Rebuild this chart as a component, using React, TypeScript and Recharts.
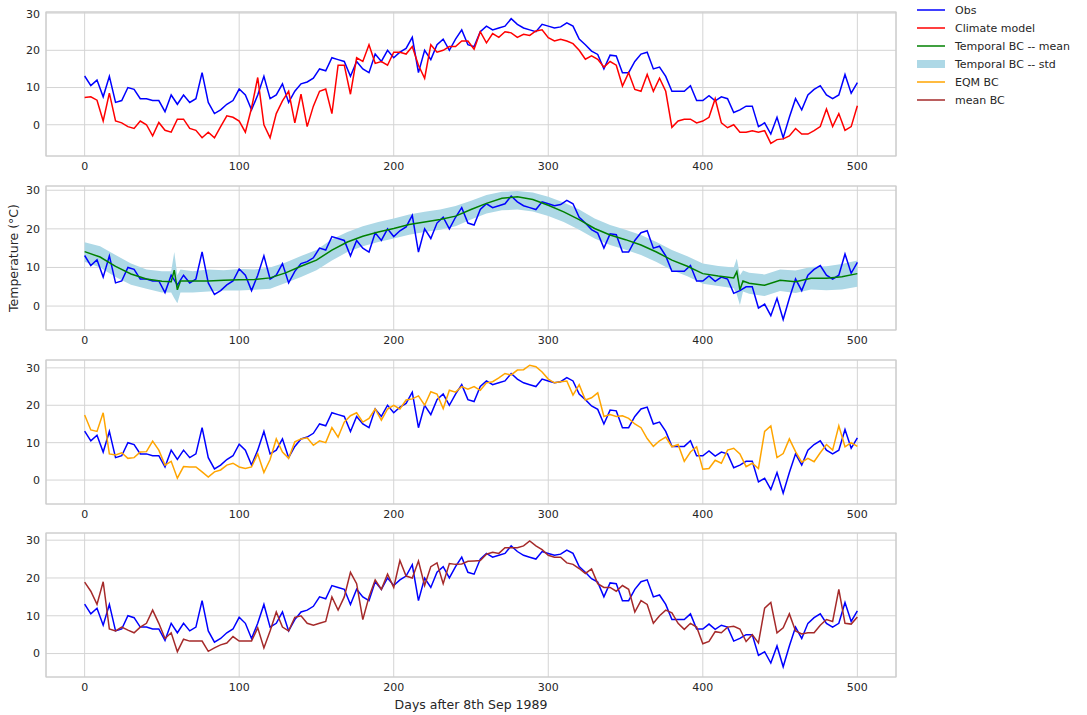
import { ComposedChart, Line, Area, XAxis, YAxis, CartesianGrid, ReferenceArea } from "recharts";
import type { ReactNode } from "react";

const STEP = 4;

const obs = [
  13.1, 10.5, 12, 7.5, 13, 6, 6.5, 10, 9.5, 7,
  7, 6.5, 6.5, 3.5, 8, 5.5, 8, 6, 7, 14,
  6, 3, 4, 5.5, 6.5, 9.6, 8, 4, 8, 13,
  7, 8, 11, 6, 9, 11, 11.5, 12.5, 15, 14.5,
  18, 17.5, 17, 13, 17, 15, 14, 19, 17, 20,
  18, 19.5, 20.5, 23.5, 14, 20, 17.5, 21.5, 23, 20,
  23, 25.5, 21.5, 21, 25, 26.5, 25.5, 26, 26.5, 28.5,
  27, 26, 25.5, 25, 27, 26.5, 26, 26.3, 27.4, 26.5,
  23, 21.5, 19.8, 18.9, 15, 18.7, 18.5, 14, 14, 17,
  19, 19.5, 15, 15.5, 13, 9, 9, 9, 10.5, 6.5,
  6.5, 7.8, 6.4, 7.5, 7, 3.3, 4, 5, 5, -0.5,
  0.5, -2.5, 2, -3.5, 2, 7, 4, 8, 9.5, 10.5,
  8, 7, 8, 13.5, 8.5, 11.3,
];

const climate = [
  7.3, 7.5, 6.6, 1, 8.5, 1, 0.5, -0.5, -1, 1,
  0, -3, 0.6, -1.5, -2, 1.5, 1.5, -1, -1.5, -3.5,
  -2, -3.5, -0.5, 2.4, 2, 1, -2, 4.5, 12.7, 0,
  -3.5, 3, 6.4, 9, 0.5, 8.2, -0.5, 5, 9, 9.6,
  3, 16, 16, 8.2, 18, 17, 21.5, 16.5, 17, 16,
  19.5, 19.5, 19, 21, 16, 12.5, 21.5, 19.5, 20, 21,
  21, 22.5, 22.5, 20.3, 25, 22, 24.5, 23.5, 25, 24.7,
  23.5, 24.3, 24, 25.2, 25.5, 23.4, 22.5, 23, 22.5, 21.8,
  20, 17.6, 18.5, 17.6, 15.5, 17, 16, 10.4, 14, 9.5,
  9, 13.5, 9, 12.5, 9, -0.7, 1, 1.5, 1.5, 0.5,
  1, 2, 7, 0.5, -0.8, 0, -2, -2, -1.6, -2,
  -1.6, -5, -4, -3.8, -3, -1, -2.5, -2.5, -1.6, -0.5,
  4.2, -0.5, 3, -1.5, -0.5, 5.1,
];

const eqm = [
  17.4, 13.4, 13, 18, 7, 6.7, 7.3, 5.8, 6, 7.5,
  7.6, 10.4, 8, 4, 5, 0.5, 3.6, 3.5, 3.5, 2.2,
  0.8, 2.2, 2.7, 4, 4.5, 3.5, 3.1, 3.5, 7, 2,
  5.5, 11, 7.5, 5.8, 10.2, 11, 11.3, 9.3, 10.5, 10,
  14, 11.5, 15.5, 17.2, 18, 15.5, 16.5, 19, 16, 19,
  20, 19, 21.4, 21.7, 22.5, 20, 23.6, 23, 19.1, 24,
  23.5, 25, 24.3, 25, 24, 26, 26.3, 27.3, 28.5, 28.1,
  29.4, 29.5, 30.7, 30.3, 28.9, 27, 26, 26.3, 26.5, 22.7,
  25.5, 21.4, 22, 23.3, 17, 17.5, 17, 17.2, 16.5, 15,
  14, 11.1, 9, 10.5, 11.5, 8.9, 9.5, 5, 7.5, 8.9,
  2.9, 3.1, 5.3, 4.5, 8, 8.5, 7, 3.6, 4.5, 3.1,
  13, 14.5, 6, 7.1, 11, 7.6, 4.8, 5.8, 4.9, 7.3,
  9.5, 8, 14.5, 8.9, 10, 9,
];

const meanBc = [
  18.9, 16.5, 13, 19, 6.5, 6, 7, 6.2, 5.5, 7,
  8, 11.5, 8, 4, 5.5, 0.5, 3.8, 3.3, 3.3, 3.3,
  0.6, 1.5, 2.3, 2.8, 4.5, 3.3, 3.3, 3.3, 6.8, 1.5,
  6, 11, 7, 6, 9.6, 10, 8, 7.5, 8, 8.5,
  15, 11.5, 15, 21.5, 18.5, 9, 15, 19.5, 17, 21,
  17.5, 24.6, 20.5, 20, 24.5, 18, 23, 24, 18.5, 23.8,
  23.6, 23.7, 24.4, 24.5, 24.6, 26.3, 26.8, 26.5, 28, 28,
  28, 28.5, 29.8, 28.5, 27.5, 26, 25.5, 25.5, 24, 23.6,
  22.5, 21.2, 22.4, 18.5, 17.5, 17.5, 16.5, 18, 17, 11,
  14, 13, 8, 10, 11.5, 10.8, 8, 6.4, 8, 7,
  2.6, 3.2, 5.8, 5.5, 7, 7.2, 6.5, 3.2, 5, 2.8,
  12, 13.5, 5.5, 6.8, 10.5, 6, 5.2, 5.5, 5.5, 7.5,
  9, 8.5, 17, 8, 7.8, 9.7,
];

// temporal BC: mean and +/- std band
const smoothDays = [
  0, 10, 20, 30, 40, 50, 56, 58, 60, 62, 70, 80, 90, 100, 110, 120, 130, 140, 150, 160,
  170, 180, 190, 200, 210, 220, 230, 240, 250, 260, 270, 280, 290, 300, 310, 320, 330, 340, 350, 360,
  370, 380, 390, 400, 410, 420, 422, 424, 426, 430, 440, 450, 460, 470, 480, 490, 500,
];
const tMean = [
  14.1, 12.7, 10.3, 8.3, 7, 6.4, 6.3, 9.3, 4.2, 6.5, 6.5, 6.5, 6.7, 6.8, 6.9, 7.3, 8.6, 10.3, 11.9, 14.5,
  16.6, 18.1, 19.2, 20.1, 21.1, 21.8, 22.4, 23.3, 25, 26.6, 27.9, 28.3, 27.6, 26.1, 24.4, 22.4, 20.1, 18.4, 17.2, 15.8,
  14, 11.9, 10.3, 8.4, 7.8, 7.3, 8.9, 4.2, 6.5, 5.9, 5.4, 6.7, 6.3, 7.2, 7.2, 7.6, 8.4,
];
const tHi = [
  16.5, 15.5, 13.2, 11, 9.5, 9, 9, 14, 8, 9.5, 9, 9.5, 9.3, 9.6, 9.5, 10, 11.3, 13, 14.5, 17.3,
  19.2, 20.7, 21.8, 22.7, 23.7, 24.4, 25, 25.9, 27.3, 28.8, 29.6, 29.8, 29.4, 28.3, 26.8, 25, 22.7, 21, 19.8, 18.4,
  16.6, 14.5, 12.9, 11, 10.4, 10, 12.3, 8, 9.2, 8.6, 8.2, 9.5, 9.2, 10.1, 10.3, 10.9, 11.8,
];
const tLo = [
  11.5, 10, 7.5, 5.5, 4.5, 3.5, 3.5, 2, 0.7, 3.5, 3.5, 3.8, 4, 4, 4.2, 4.5, 6, 7.5, 9.3, 11.8,
  14, 15.5, 16.6, 17.5, 18.5, 19.2, 19.8, 20.7, 22.4, 24, 24.8, 25, 24.5, 23.3, 21.8, 19.8, 17.5, 15.8, 14.6, 13.2,
  11.4, 9.3, 7.7, 5.8, 5.2, 4.6, 3, 0.3, 3.8, 3.2, 2.6, 3.9, 3.4, 4.3, 4.1, 4.3, 5,
];

const xTicks = [0, 100, 200, 300, 400, 500];
const yTicks = [0, 10, 20, 30];

const days = obs.map((_, i) => i * STEP);
const rows = (vals: number[]) => vals.map((v, i) => ({ day: days[i], v }));
const obsRows = rows(obs);
const climateRows = rows(climate);
const eqmRows = rows(eqm);
const meanBcRows = rows(meanBc);
const tMeanRows = smoothDays.map((d, i) => ({ day: d, v: tMean[i] }));
const bandRows = smoothDays.map((d, i) => ({ day: d, range: [tLo[i], tHi[i]] }));

const C = {
  obs: "#0000ff",
  climate: "#ff0000",
  tmean: "#008000",
  tstd: "#add8e6",
  eqm: "#ffa500",
  meanBc: "#a52a2a",
};

const FONT = "'DejaVu Sans', sans-serif";
const TEXT = "#262626";
const PAD = 4;
const PLOT_H = 144;
const tick = { fontSize: 11, fill: TEXT, fontFamily: FONT };

function Panel({ top, yDomain, children }: { top: number; yDomain: [number, number]; children: ReactNode }) {
  return (
    <div style={{ position: "absolute", left: 0, top: top - PAD }}>
      <ComposedChart width={900} height={PAD + PLOT_H + 24} margin={{ top: PAD, right: 4, left: 0, bottom: 0 }}>
        <CartesianGrid stroke="#d4d4d4" strokeWidth={1} />
        <XAxis
          type="number"
          dataKey="day"
          domain={[-25, 525]}
          ticks={xTicks}
          allowDataOverflow
          tickLine={false}
          axisLine={false}
          tickSize={0}
          tickMargin={6}
          height={24}
          tick={tick}
        />
        <YAxis
          type="number"
          domain={yDomain}
          ticks={yTicks}
          allowDataOverflow
          tickLine={false}
          axisLine={false}
          tickSize={0}
          tickMargin={6}
          width={46}
          tick={tick}
        />
        {children}
        <ReferenceArea
          x1={-25}
          x2={525}
          y1={yDomain[0]}
          y2={yDomain[1]}
          fill="none"
          fillOpacity={0}
          stroke="#cccccc"
          strokeWidth={1.2}
          ifOverflow="visible"
        />
      </ComposedChart>
    </div>
  );
}

const line = (rowsData: { day: number; v: number }[], color: string, key: string) => (
  <Line
    key={key}
    data={rowsData}
    dataKey="v"
    type="linear"
    stroke={color}
    strokeWidth={1.5}
    dot={false}
    activeDot={false}
    isAnimationActive={false}
  />
);

const legendItems = [
  { label: "Obs", color: C.obs, patch: false },
  { label: "Climate model", color: C.climate, patch: false },
  { label: "Temporal BC -- mean", color: C.tmean, patch: false },
  { label: "Temporal BC -- std", color: C.tstd, patch: true },
  { label: "EQM BC", color: C.eqm, patch: false },
  { label: "mean BC", color: C.meanBc, patch: false },
];

export default function App() {
  return (
    <div style={{ position: "absolute", left: 0, top: 0, width: 1087, height: 715, background: "#fff", fontFamily: FONT }}>
      <Panel top={12} yDomain={[-8.4, 30.3]}>
        {line(obsRows, C.obs, "obs")}
        {line(climateRows, C.climate, "climate")}
      </Panel>
      <Panel top={186} yDomain={[-6.2, 31.1]}>
        <Area
          data={bandRows}
          dataKey="range"
          type="linear"
          stroke="none"
          fill={C.tstd}
          fillOpacity={1}
          dot={false}
          activeDot={false}
          isAnimationActive={false}
        />
        {line(obsRows, C.obs, "obs")}
        {line(tMeanRows, C.tmean, "tmean")}
      </Panel>
      <Panel top={360} yDomain={[-6.4, 32.1]}>
        {line(obsRows, C.obs, "obs")}
        {line(eqmRows, C.eqm, "eqm")}
      </Panel>
      <Panel top={533} yDomain={[-6.2, 31.9]}>
        {line(obsRows, C.obs, "obs")}
        {line(meanBcRows, C.meanBc, "meanbc")}
      </Panel>

      <div
        style={{
          position: "absolute",
          left: 14 - 100,
          top: 258 - 9,
          width: 200,
          height: 18,
          textAlign: "center",
          transform: "rotate(-90deg)",
          fontSize: 12.5,
          color: TEXT,
          lineHeight: "18px",
        }}
      >
        Temperature (°C)
      </div>
      <div
        style={{
          position: "absolute",
          left: 371,
          top: 696,
          width: 200,
          textAlign: "center",
          fontSize: 12.5,
          color: TEXT,
          lineHeight: "18px",
        }}
      >
        Days after 8th Sep 1989
      </div>

      <div style={{ position: "absolute", left: 916, top: 1 }}>
        {legendItems.map((it) => (
          <div key={it.label} style={{ display: "flex", alignItems: "center", height: 18 }}>
            <svg width={30} height={12} style={{ marginRight: 9 }}>
              {it.patch ? (
                <rect x={1} y={2} width={28} height={8} fill={it.color} />
              ) : (
                <line x1={1} x2={29} y1={6} y2={6} stroke={it.color} strokeWidth={1.5} />
              )}
            </svg>
            <span style={{ fontSize: 11, color: TEXT, whiteSpace: "nowrap" }}>{it.label}</span>
          </div>
        ))}
      </div>
    </div>
  );
}
